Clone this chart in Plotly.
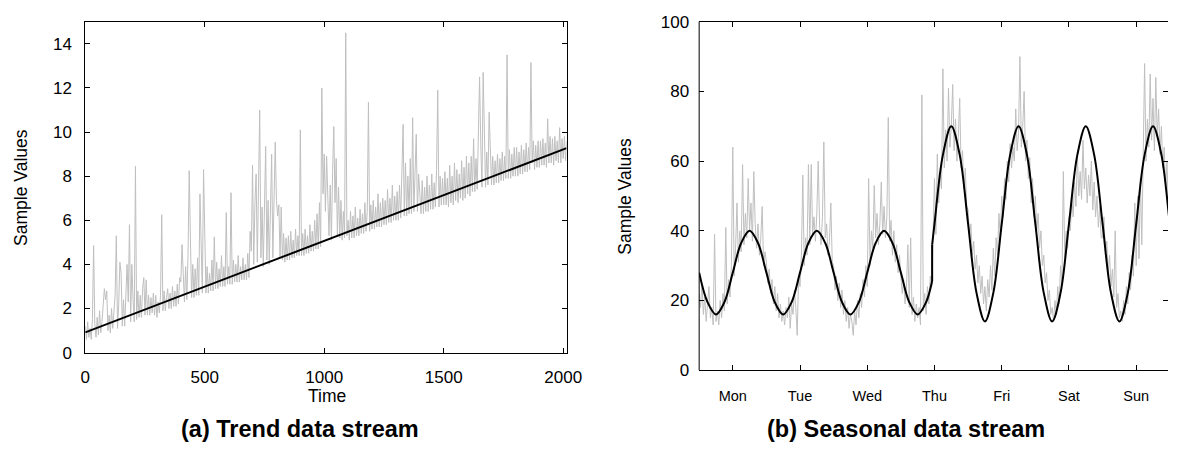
import numpy as np
import plotly.graph_objects as go

# ---------------- data: (a) trend data stream ----------------
trend_step = 5
trend_vals = [
    1.2, 0.6, 1.4, 0.7, 1.1, 0.6, 1.5, 4.85, 1.3, 0.7, 1.6, 0.8, 1.9, 0.9, 1.4, 2.0, 2.9, 2.4, 2.8, 1.0,
    1.7, 0.9, 2.0, 1.1, 1.9, 2.6, 5.3, 1.1, 2.2, 4.1, 3.6, 1.2, 2.4, 1.2, 2.6, 4.0, 2.3, 5.8, 1.4, 4.0,
    2.4, 1.4, 8.45, 1.5, 2.8, 1.6, 2.6, 1.6, 2.9, 3.4, 1.7, 3.3, 1.7, 2.6, 1.7, 2.5, 1.8, 2.7, 1.7, 2.6,
    1.6, 2.3, 1.8, 2.6, 6.25, 1.9, 2.8, 1.9, 2.5, 2.9, 2.0, 2.7, 2.0, 3.0, 2.1, 2.8, 2.1, 3.1, 2.2, 3.4,
    3.2, 4.9, 3.6, 2.3, 3.9, 2.4, 4.4, 8.25, 5.2, 2.5, 4.0, 2.5, 3.8, 2.6, 4.3, 2.6, 7.2, 4.5, 2.7, 8.3,
    4.6, 2.7, 3.9, 2.7, 3.6, 2.8, 4.2, 2.8, 5.25, 2.9, 4.1, 2.9, 3.8, 3.0, 4.4, 3.0, 3.9, 3.0, 6.35, 3.1,
    3.9, 3.1, 7.25, 3.1, 4.2, 3.2, 4.0, 3.2, 4.4, 3.2, 3.9, 3.3, 4.3, 3.3, 4.0, 3.3, 4.5, 3.4, 5.5, 4.6,
    8.5, 4.0, 6.8, 8.1, 4.1, 7.0, 11.0, 4.3, 6.6, 3.9, 7.4, 9.35, 4.2, 6.9, 4.0, 7.6, 9.0, 4.3, 7.9, 9.55,
    6.9, 6.2, 6.7, 4.3, 6.6, 4.2, 5.4, 4.1, 5.2, 4.2, 5.3, 4.2, 5.5, 4.3, 5.1, 4.3, 5.6, 4.4, 5.3, 4.4,
    10.1, 4.4, 5.4, 4.4, 5.6, 4.5, 5.3, 4.5, 5.8, 4.6, 5.5, 4.6, 6.0, 4.7, 6.3, 4.7, 6.8, 4.8, 12.0, 7.2,
    9.0, 6.4, 8.9, 7.0, 5.3, 7.6, 5.1, 8.2, 10.25, 6.8, 8.8, 5.3, 7.5, 5.2, 6.9, 5.1, 6.4, 5.2, 14.5, 5.3,
    6.0, 5.1, 6.4, 5.2, 6.2, 5.2, 6.6, 5.3, 6.1, 5.3, 6.5, 5.4, 6.3, 5.4, 6.8, 5.5, 6.4, 11.35, 5.5, 6.7,
    5.6, 6.9, 5.6, 6.6, 5.7, 7.2, 5.7, 6.8, 5.7, 7.0, 5.8, 6.9, 5.8, 7.4, 5.9, 7.0, 5.9, 7.6, 6.0, 7.1,
    6.0, 7.3, 6.0, 7.6, 6.1, 8.2, 10.35, 6.2, 8.6, 6.2, 8.0, 6.3, 8.8, 6.3, 10.65, 6.4, 8.4, 9.9, 6.4, 8.1,
    7.2, 6.3, 7.8, 6.3, 7.5, 6.4, 8.0, 6.4, 7.6, 6.5, 8.1, 6.5, 7.7, 6.6, 8.3, 11.9, 6.6, 8.0, 6.7, 7.9,
    6.7, 8.2, 6.7, 7.9, 6.6, 8.5, 6.8, 8.0, 6.7, 8.6, 6.9, 8.3, 6.8, 8.1, 7.0, 8.7, 6.9, 8.4, 7.0, 8.9,
    7.2, 8.6, 7.1, 8.9, 7.3, 9.7, 7.3, 8.8, 7.4, 9.4, 12.5, 9.5, 7.5, 12.7, 9.8, 7.5, 9.1, 7.6, 10.9, 8.7,
    7.6, 8.9, 7.6, 8.7, 7.7, 9.0, 7.7, 8.8, 7.8, 9.1, 7.8, 8.9, 7.9, 13.5, 7.9, 9.2, 7.9, 9.0, 8.0, 9.3,
    8.0, 9.3, 8.0, 9.1, 8.1, 9.4, 8.1, 9.2, 8.2, 9.5, 8.2, 9.3, 8.3, 13.15, 8.6, 9.6, 8.3, 9.4, 8.4, 9.6,
    8.4, 9.6, 8.5, 9.7, 8.5, 9.5, 8.4, 10.6, 8.6, 9.8, 8.6, 9.7, 8.5, 9.8, 8.7, 9.6, 8.6, 10.2, 8.6, 9.7,
    8.8, 9.8, 8.7, 9.6,
]
trend_time = np.arange(len(trend_vals)) * trend_step
trend_line_x = [0, 2014]
trend_line_y = [0.92, 9.27]
trend_xticks = [0, 500, 1000, 1500, 2000]
trend_yticks = [0, 2, 4, 6, 8, 10, 12, 14]

# ---------------- data: (b) seasonal data stream ----------------
season_step = 1 / 48          # day fraction per sample
season_start = 0.5
season_vals = [
    # t 0.5 - 1.5
    22, 18, 25, 16, 21, 14, 19, 24, 15, 18, 13, 39, 14,
    17, 13, 20, 15, 22, 17, 41, 19, 26, 21, 30, 64,
    27, 35, 48, 31, 40, 34, 59, 36, 45, 38, 55, 40,
    48, 37, 57, 42, 35, 42, 33, 38, 47, 30, 34,
    # t 1.5 - 2.5
    31, 25, 29, 22, 26, 19, 24, 17, 22, 15, 19, 14, 17,
    13, 18, 15, 21, 12, 19, 16, 23, 18, 10, 27, 24,
    33, 56, 30, 38, 33, 59, 36, 59, 39, 44, 37, 45,
    60, 41, 36, 44, 65.5, 38, 42, 33, 37, 48, 31,
    # t 2.5 - 3.5
    30, 23, 27, 20, 25, 18, 23, 16, 20, 14, 18, 12, 16,
    14, 10, 17, 13, 20, 15, 22, 18, 26, 21, 30, 24,
    55, 30, 40, 35, 53, 38, 45, 36, 42, 54, 39, 47,
    38, 44, 72.5, 37, 43, 33, 40, 31, 36, 28, 33,
    # t 3.5 - 4.5
    27, 22, 26, 19, 24, 36, 18, 38, 16, 21, 14, 19, 15,
    18, 13, 79, 17, 22, 16, 24, 19, 27, 24, 45, 55,
    39, 62, 48, 56, 52, 86.5, 58, 69, 60, 81, 64, 70,
    82, 63, 72, 60, 67, 78, 58, 63, 52, 58, 47,
    # t 4.5 - 5.5
    46, 38, 42, 33, 37, 29, 33, 25, 30, 22, 27, 19, 24,
    17, 26, 21, 30, 23, 35, 27, 38, 33, 45, 38, 50,
    44, 55, 49, 60, 54, 65, 58, 64, 60, 75, 63, 68,
    90, 64, 70, 80, 60, 66, 55, 61, 48, 55, 44,
    # t 5.5 - 6.5
    50, 40, 45, 35, 40, 30, 33, 25, 28, 20, 23, 16, 18,
    14, 20, 16, 24, 19, 30, 25, 57, 32, 40, 35, 44,
    40, 50, 44, 54, 47, 62, 50, 57, 49, 66, 52, 58,
    48, 56, 50, 60, 46, 54, 44, 50, 41, 47, 38,
    # t 6.5 - 7.5
    38, 44, 33, 37, 28, 33, 24, 29, 21, 40, 18, 22, 15,
    17, 14, 20, 16, 24, 19, 28, 23, 33, 27, 48, 30,
    50, 32, 55, 36, 62, 88, 60, 72, 64, 85, 66, 78,
    63, 84, 67, 75, 62, 70, 58, 64, 52, 60, 45,
    50,
]
season_time = season_start + np.arange(len(season_vals)) * season_step

# seasonal model (every 1/8 day)
model_a_t = [0.5, 0.625, 0.75, 0.875, 1.0, 1.125, 1.25, 1.375,
             1.5, 1.625, 1.75, 1.875, 2.0, 2.125, 2.25, 2.375,
             2.5, 2.625, 2.75, 2.875, 3.0, 3.125, 3.25, 3.375,
             3.5, 3.625, 3.75, 3.875, 3.965]
model_a_v = [28, 19.5, 16, 19.5, 28, 36.5, 40, 36.5,
             28, 19.5, 16, 19.5, 28, 36.5, 40, 36.5,
             28, 19.5, 16, 19.5, 28, 36.5, 40, 36.5,
             28, 19.5, 16, 19.5, 25.6]
model_b_t = [3.965, 4.0, 4.125, 4.25, 4.375, 4.5, 4.625, 4.75, 4.875,
             5.0, 5.125, 5.25, 5.375, 5.5, 5.625, 5.75, 5.875,
             6.0, 6.125, 6.25, 6.375, 6.5, 6.625, 6.75, 6.875,
             7.0, 7.125, 7.25, 7.375, 7.5, 7.625]
model_b_v = [36.0, 42, 61.8, 70, 61.8, 42, 22.2, 14, 22.2,
             42, 61.8, 70, 61.8, 42, 22.2, 14, 22.2,
             42, 61.8, 70, 61.8, 42, 22.2, 14, 22.2,
             42, 61.8, 70, 61.8, 42, 22.2]
model_jump_t = [3.965, 3.965]
model_jump_v = [25.6, 36.0]

day_ticks = [1, 2, 3, 4, 5, 6, 7]
day_labels = ["Mon", "Tue", "Wed", "Thu", "Fri", "Sat", "Sun"]
season_yticks = [0, 20, 40, 60, 80, 100]

# ---------------- figure ----------------
W, H = 1184, 453
FONT = "Liberation Sans, Arial, Helvetica, sans-serif"
GRAY = "#bfbfbf"


def fx(p):
    return p / W


def fy(p):
    return 1 - p / H


fig = go.Figure()
fig.add_trace(go.Scatter(x=trend_time, y=trend_vals, mode="lines",
                         line=dict(color=GRAY, width=1), xaxis="x", yaxis="y",
                         showlegend=False, hoverinfo="skip"))
fig.add_trace(go.Scatter(x=trend_line_x, y=trend_line_y, mode="lines",
                         line=dict(color="black", width=2), xaxis="x", yaxis="y",
                         showlegend=False))

fig.add_trace(go.Scatter(x=season_time, y=season_vals, mode="lines",
                         line=dict(color=GRAY, width=1), xaxis="x2", yaxis="y2",
                         showlegend=False, hoverinfo="skip"))
for tx, ty, shape in [(model_a_t, model_a_v, "spline"),
                      (model_jump_t, model_jump_v, "linear"),
                      (model_b_t, model_b_v, "spline")]:
    fig.add_trace(go.Scatter(x=tx, y=ty, mode="lines",
                             line=dict(color="black", width=2, shape=shape, smoothing=1),
                             xaxis="x2", yaxis="y2", showlegend=False))

axis_common = dict(showgrid=False, zeroline=False, ticks="inside", ticklen=5,
                   tickwidth=1, tickcolor="black", linecolor="black", linewidth=1,
                   tickfont=dict(family=FONT, size=17, color="black"))

fig.update_layout(
    width=W, height=H,
    margin=dict(l=0, r=0, t=0, b=0),
    paper_bgcolor="white", plot_bgcolor="white",
    font=dict(family=FONT, color="black"),
    xaxis=dict(domain=[fx(81.7), fx(571.7)], range=[0, 2014], tickvals=trend_xticks,
               showline=True, mirror="ticks", anchor="y", ticklabelstandoff=9, **axis_common),
    yaxis=dict(domain=[fy(358.7), fy(13.3)], range=[0, 15], tickvals=trend_yticks,
               showline=True, mirror="ticks", anchor="x", ticklabelstandoff=9, **axis_common),
    xaxis2=dict(domain=[fx(706.7), 1.0], range=[0.5, 0.5 + (W - 706.7) / 68.45],
                tickvals=day_ticks, ticktext=day_labels, showline=True, mirror="ticks",
                anchor="y2", ticklabelstandoff=12,
                **{**axis_common, "tickfont": dict(family=FONT, size=14.5, color="black")}),
    yaxis2=dict(domain=[fy(377), fy(13.3)], range=[0, 100], tickvals=season_yticks,
                showline=False, mirror="ticks", anchor="x2", ticklabelstandoff=9, **axis_common),
    shapes=[dict(type="line", xref="x2 domain", yref="y2 domain", x0=0, x1=0, y0=0, y1=1,
                 line=dict(color="black", width=1))],
    annotations=[
        dict(text="Sample Values", x=fx(17), y=fy(186), xref="paper", yref="paper",
             textangle=-90, showarrow=False, xanchor="center", yanchor="middle",
             font=dict(family=FONT, size=17.5)),
        dict(text="Sample Values", x=fx(631), y=fy(195), xref="paper", yref="paper",
             textangle=-90, showarrow=False, xanchor="center", yanchor="middle",
             font=dict(family=FONT, size=17.5)),
        dict(text="Time", x=fx(327.5), y=fy(404), xref="paper", yref="paper",
             showarrow=False, xanchor="center", yanchor="middle",
             font=dict(family=FONT, size=17.5)),
        dict(text="<b>(a) Trend data stream</b>", x=fx(300.7), y=fy(438), xref="paper",
             yref="paper", showarrow=False, xanchor="center", yanchor="middle",
             font=dict(family=FONT, size=23.5)),
        dict(text="<b>(b) Seasonal data stream</b>", x=fx(917), y=fy(438), xref="paper",
             yref="paper", showarrow=False, xanchor="center", yanchor="middle",
             font=dict(family=FONT, size=23.5)),
    ],
)

fig.write_html("out.html", post_script="document.body.style.margin='0';",
               config={"displayModeBar": False})
